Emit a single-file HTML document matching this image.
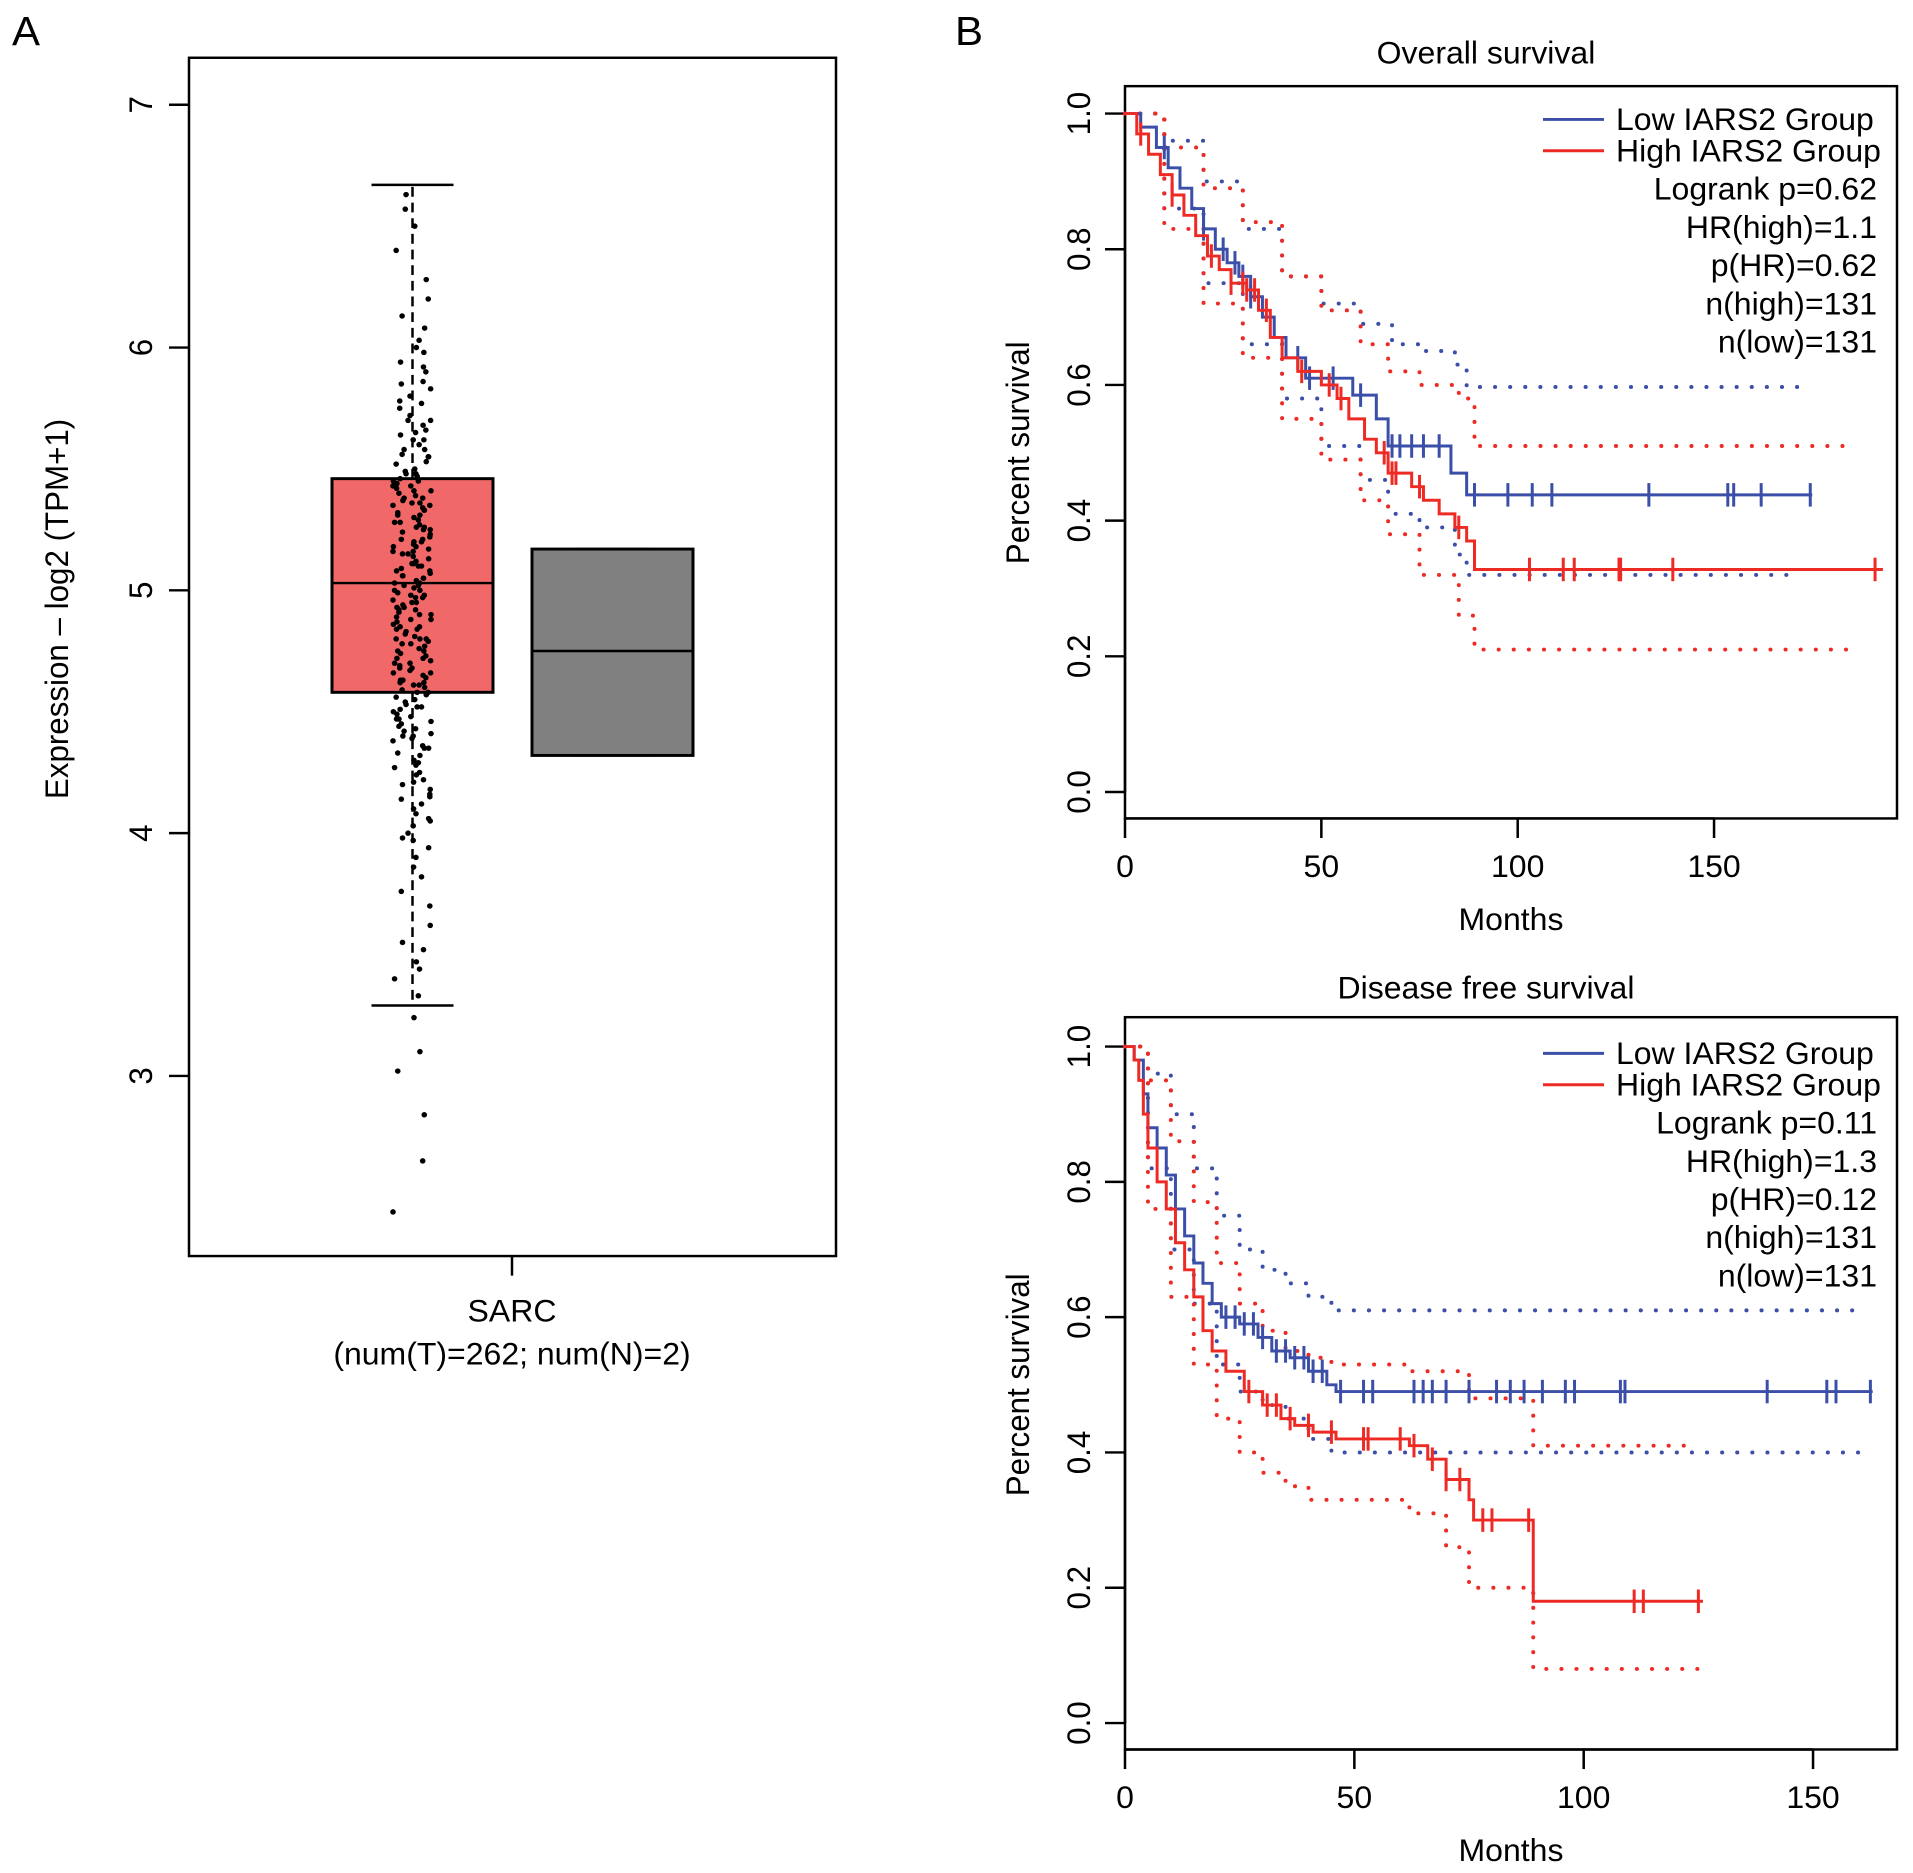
<!DOCTYPE html>
<html><head><meta charset="utf-8"><style>
html,body{margin:0;padding:0;background:#fff}
svg{display:block}
text{font-family:"Liberation Sans",Arial,sans-serif;fill:#000}
</style></head><body>
<svg id="fig" width="1913" height="1873" viewBox="0 0 1913 1873" xmlns="http://www.w3.org/2000/svg">
<g transform="scale(1,0.979)">
<text x="12" y="46" font-size="42">A</text>
<text x="955" y="46" font-size="42">B</text>
<g id="boxplot"></g>
<g id="os"></g>
<g id="dfs"></g>
</g>
</svg>
<script>
const NS="http://www.w3.org/2000/svg";
function mk(parent,tag,attrs,txt){const e=document.createElementNS(NS,tag);for(const k in attrs)e.setAttribute(k,attrs[k]);if(txt!==undefined)e.textContent=txt;parent.appendChild(e);return e;}
const FS=32;

// ---------- Panel A data ----------
const boxTicks=[3,4,5,6,7];
const tumorStats=[3.29,4.58,5.03,5.46,6.67];
const normalStats=[4.32,4.32,4.75,5.17,5.17];
const tumorPoints=[2.44,2.65,2.84,3.02,3.10,3.24,3.33,3.40,3.44,3.47,3.52,3.55,3.62,3.70,3.76,3.82,3.86,3.90,3.94,3.97,4.00,4.03,4.06,4.08,4.10,4.12,4.14,4.16,4.18,4.20,4.22,4.24,4.25,4.27,4.29,4.30,4.32,4.33,4.35,4.36,4.38,4.39,4.40,4.42,4.43,4.44,4.46,4.47,4.48,4.49,4.50,4.51,4.52,4.53,4.54,4.55,4.56,4.57,4.58,4.59,4.60,4.61,4.62,4.63,4.64,4.65,4.66,4.67,4.68,4.69,4.70,4.71,4.72,4.73,4.74,4.75,4.76,4.77,4.78,4.79,4.80,4.80,4.81,4.82,4.83,4.84,4.85,4.86,4.87,4.88,4.89,4.90,4.91,4.92,4.93,4.94,4.95,4.96,4.97,4.98,4.99,5.00,5.01,5.02,5.03,5.03,5.04,5.05,5.06,5.07,5.08,5.09,5.10,5.11,5.12,5.13,5.14,5.15,5.16,5.17,5.18,5.19,5.20,5.21,5.22,5.23,5.24,5.25,5.26,5.27,5.28,5.29,5.30,5.31,5.32,5.33,5.34,5.35,5.36,5.37,5.38,5.39,5.40,5.41,5.42,5.43,5.44,5.45,5.46,5.47,5.48,5.49,5.50,5.52,5.53,5.55,5.56,5.58,5.60,5.62,5.64,5.66,5.68,5.70,5.72,5.75,5.78,5.80,5.83,5.86,5.90,5.94,5.98,6.03,6.08,6.13,6.20,6.28,6.40,6.50,6.57,6.63,
4.58,4.62,4.66,4.72,4.78,4.84,4.88,4.92,4.97,5.02,5.06,5.11,5.16,5.21,5.26,5.31,5.36,5.41,5.45,4.70,4.85,4.95,5.05,5.15,5.25,5.35,4.45,4.52,4.61,5.48,5.55,5.62,5.70,4.40,4.35,4.28,4.21,5.77,5.85,4.15,4.05,3.98,5.92,6.00,4.90,5.00,5.10,5.20,4.80,4.75,5.33,5.38,5.43,4.68,4.63,5.58,5.65,4.47,4.41,5.08,4.98,4.93,5.18,5.28];
const sampleLabel=["SARC","(num(T)=262; num(N)=2)"];

(function(){
 const g=document.getElementById('boxplot');
 const L=189,R=836,T=59,B=1283;
 const y=v=>603-(v-5)*248;
 const fr=mk(g,'rect',{x:L,y:T,width:R-L,height:B-T,fill:'none',stroke:'#000','stroke-width':2.5});
 
 boxTicks.forEach(t=>{
  const ln=mk(g,'line',{x1:L-20,x2:L,y1:y(t),y2:y(t),stroke:'#000','stroke-width':2.5});
  
  const tx=mk(g,'text',{x:152,y:y(t),'font-size':FS,'text-anchor':'middle',transform:`rotate(-90 152 ${y(t)})`},String(t));
  
 });
 const yt=mk(g,'text',{x:68,y:622,'font-size':FS,'text-anchor':'middle',transform:'rotate(-90 68 622)'},'Expression \u2013 log2 (TPM+1)');
 
 function box(s,x0,x1,fill,name){
  const cx=(x0+x1)/2;
  const w1=mk(g,'line',{x1:cx,x2:cx,y1:y(s[3]),y2:y(s[4]),stroke:'#000','stroke-width':2.5,'stroke-dasharray':'10 6'});
  
  const w2=mk(g,'line',{x1:cx,x2:cx,y1:y(s[1]),y2:y(s[0]),stroke:'#000','stroke-width':2.5,'stroke-dasharray':'10 6'});
  
  const c1=mk(g,'line',{x1:cx-41,x2:cx+41,y1:y(s[4]),y2:y(s[4]),stroke:'#000','stroke-width':2.5});
  
  const c2=mk(g,'line',{x1:cx-41,x2:cx+41,y1:y(s[0]),y2:y(s[0]),stroke:'#000','stroke-width':2.5});
  
  const b=mk(g,'rect',{x:x0,y:y(s[3]),width:x1-x0,height:y(s[1])-y(s[3]),fill:fill,stroke:'#000','stroke-width':3});
  
  const m=mk(g,'line',{x1:x0,x2:x1,y1:y(s[2]),y2:y(s[2]),stroke:'#000','stroke-width':2.5});
  
 }
 box(normalStats,532,693,'#808080','normal');
 box(tumorStats,332,493,'#f06868','tumor');
 tumorPoints.forEach((v,i)=>{
  const jit=((i*7919+i*i*13)%97)/96*38-19;
  const d=mk(g,'circle',{cx:412+jit,cy:y(v),r:2.8,fill:'#000'});
  
 });
 const xt=mk(g,'line',{x1:512,x2:512,y1:B,y2:B+20,stroke:'#000','stroke-width':2.5});
 
 const l1=mk(g,'text',{x:512,y:1350,'font-size':FS,'text-anchor':'middle'},sampleLabel[0]);
 
 const l2=mk(g,'text',{x:512,y:1394,'font-size':FS,'text-anchor':'middle'},sampleLabel[1]);
 
})();

// ---------- Overall survival ----------
const osLowT=[0,4,8,11,14,17,20,23,26,29,32,35,38,41,46,58,64,67,83,87,175];
const osLowS=[1,0.98,0.95,0.92,0.89,0.86,0.83,0.80,0.78,0.76,0.73,0.70,0.67,0.64,0.61,0.585,0.55,0.51,0.47,0.438,0.438];
const osHighT=[0,3,6,9,12,15,18,21,24,27,31,34,37,40,44,50,54,57,61,64,67,73,76,80,84,87,89,193];
const osHighS=[1,0.97,0.94,0.91,0.88,0.85,0.82,0.79,0.77,0.75,0.74,0.71,0.67,0.64,0.62,0.60,0.58,0.55,0.52,0.50,0.47,0.45,0.43,0.41,0.39,0.37,0.328,0.328];
const osLowCens=[10,20,25,28,30,32,44,47,53,60,68,70,73,76,80,89,97.5,103.7,108.7,133.4,153.5,155,162,174.5];
const osHighCens=[4,12,22,27,30,31,33,36,45,52,55,66,68,69,75,85,103,111.6,114.4,125.8,126.2,139.5,191];
const osLowUpT=[0,10,20,30,40,50,60,68,75,84,87,172];
const osLowUpS=[1,0.96,0.90,0.83,0.76,0.72,0.69,0.66,0.65,0.63,0.597,0.597];
const osLowLoT=[0,10,20,30,40,50,60,67,75,84,87,172];
const osLowLoS=[1,0.86,0.75,0.66,0.58,0.51,0.46,0.41,0.39,0.35,0.32,0.32];
const osHighUpT=[0,10,20,30,40,50,60,67,75,85,89,186];
const osHighUpS=[1,0.95,0.89,0.84,0.76,0.71,0.66,0.62,0.60,0.58,0.51,0.51];
const osHighLoT=[0,10,20,30,40,50,60,67,75,85,89,186];
const osHighLoS=[1,0.83,0.72,0.64,0.55,0.49,0.43,0.38,0.32,0.26,0.21,0.21];
const osStats=["Logrank p=0.62","HR(high)=1.1","p(HR)=0.62","n(high)=131","n(low)=131"];
const osXTicks=[0,50,100,150];
// ---------- Disease free survival ----------
const dfsLowT=[0,2,4,5,7,9,11,13,15,17,19,21,25,29,32,36,40,44,46,163];
const dfsLowS=[1,0.98,0.93,0.88,0.85,0.81,0.76,0.72,0.68,0.65,0.62,0.60,0.59,0.57,0.55,0.54,0.52,0.50,0.49,0.49];
const dfsHighT=[0,2,3,4,5,7,9,11,13,15,17,19,22,26,30,34,37,41,46,62,66,70,75,76,89,126];
const dfsHighS=[1,0.98,0.95,0.90,0.85,0.80,0.76,0.71,0.67,0.63,0.58,0.55,0.52,0.49,0.47,0.45,0.44,0.43,0.42,0.41,0.39,0.36,0.33,0.30,0.18,0.18];
const dfsLowCens=[22,24,26,28,30,33,35,37,39,41,43,47,52,54,63,65,67,70,75,81,84,87,91,96,98,108,109,140,153,155,162.5];
const dfsHighCens=[27,31,33,36,40,45,52,53,60,63,67,70,73,78,80,88,111,113,125];
const dfsLowUpT=[0,5,10,15,20,25,30,35,40,45,160];
const dfsLowUpS=[1,0.96,0.90,0.82,0.75,0.70,0.67,0.65,0.63,0.61,0.61];
const dfsLowLoT=[0,5,10,15,20,25,30,35,40,45,161];
const dfsLowLoS=[1,0.82,0.70,0.62,0.53,0.49,0.47,0.45,0.42,0.40,0.40];
const dfsHighUpT=[0,5,10,15,20,25,30,35,40,45,62,75,89,125];
const dfsHighUpS=[1,0.95,0.86,0.77,0.68,0.62,0.58,0.55,0.54,0.53,0.52,0.48,0.41,0.41];
const dfsHighLoT=[0,5,10,15,20,25,30,35,40,45,62,70,75,89,125];
const dfsHighLoS=[1,0.76,0.63,0.53,0.45,0.40,0.37,0.35,0.33,0.33,0.31,0.26,0.20,0.08,0.08];
const dfsStats=["Logrank p=0.11","HR(high)=1.3","p(HR)=0.12","n(high)=131","n(low)=131"];
const dfsXTicks=[0,50,100,150];
const yTicks=[0,0.2,0.4,0.6,0.8,1.0];
const legendLabels=["Low IARS2 Group","High IARS2 Group"];

function kmPlot(gid,cfg){
 const g=document.getElementById(gid);
 const {L,R,T,B,y0,y1,pxm,title,titleY,stats,xTicks}=cfg;
 const X=m=>L+m*pxm, Y=v=>y0-(v)*(y0-y1);
 const fr=mk(g,'rect',{x:L,y:T,width:R-L,height:B-T,fill:'none',stroke:'#000','stroke-width':2.5});
 
 const tt=mk(g,'text',{x:(L+R)/2-25,y:titleY,'font-size':FS,'text-anchor':'middle'},title);
 
 const ax=mk(g,'line',{x1:X(xTicks[0]),x2:X(xTicks[xTicks.length-1]),y1:B,y2:B,stroke:'#000','stroke-width':2.5});
 
 xTicks.forEach(t=>{
  const ln=mk(g,'line',{x1:X(t),x2:X(t),y1:B,y2:B+20,stroke:'#000','stroke-width':2.5});
  
  const tx=mk(g,'text',{x:X(t),y:B+60,'font-size':FS,'text-anchor':'middle'},String(t));
  
 });
 const mx=mk(g,'text',{x:(L+R)/2,y:B+114,'font-size':FS,'text-anchor':'middle'},'Months');
 
 const ay=mk(g,'line',{x1:L,x2:L,y1:Y(0),y2:Y(1),stroke:'#000','stroke-width':2.5});
 
 yTicks.forEach(t=>{
  const ln=mk(g,'line',{x1:L-20,x2:L,y1:Y(t),y2:Y(t),stroke:'#000','stroke-width':2.5});
  
  const tx=mk(g,'text',{x:L-35,y:Y(t),'font-size':FS,'text-anchor':'middle',transform:`rotate(-90 ${L-35} ${Y(t)})`},t.toFixed(1));
  
 });
 const ym=(Y(0)+Y(1))/2;
 const yt=mk(g,'text',{x:L-96,y:ym,'font-size':FS,'text-anchor':'middle',transform:`rotate(-90 ${L-96} ${ym})`},'Percent survival');
 
 function stepPath(ts,ss){let d=`M${X(ts[0])},${Y(ss[0])}`;for(let i=1;i<ts.length;i++){d+=` H${X(ts[i])} V${Y(ss[i])}`;}return d;}
 function stepAt(ts,ss,t){let v=ss[0];for(let i=0;i<ts.length;i++){if(ts[i]<=t)v=ss[i];}return v;}
 cfg.ci.forEach(c=>{
  const p=mk(g,'path',{d:stepPath(c[0],c[1]),fill:'none',stroke:c[2],'stroke-width':4,'stroke-dasharray':'0.1 15','stroke-linecap':'round'});
  
 });
 cfg.curves.forEach(c=>{
  const p=mk(g,'path',{d:stepPath(c[0],c[1]),fill:'none',stroke:c[2],'stroke-width':3});
  
  c[3].forEach(t=>{
   const v=stepAt(c[0],c[1],t);
   const m=mk(g,'line',{x1:X(t),x2:X(t),y1:Y(v)-12,y2:Y(v)+12,stroke:c[2],'stroke-width':3});
   
  });
 });
 const ly=cfg.legY;
 [['#3b4fa8',legendLabels[0]],['#ee2a24',legendLabels[1]]].forEach((e,i)=>{
  const l=mk(g,'line',{x1:1543,x2:1604,y1:ly+i*32,y2:ly+i*32,stroke:e[0],'stroke-width':3});
  
  const t=mk(g,'text',{x:1616,y:ly+i*32+11,'font-size':FS},e[1]);
  
 });
 stats.forEach((s,i)=>{
  const t=mk(g,'text',{x:1877,y:ly+82+i*39,'font-size':FS,'text-anchor':'end'},s);
  
 });
}
kmPlot('os',{L:1125,R:1897,T:88,B:836,y0:809,y1:116,pxm:3.927,title:'Overall survival',titleY:65,stats:osStats,xTicks:osXTicks,legY:122,
 ci:[[osLowUpT,osLowUpS,'#3b4fa8','low-ci-upper'],[osLowLoT,osLowLoS,'#3b4fa8','low-ci-lower'],[osHighUpT,osHighUpS,'#ee2a24','high-ci-upper'],[osHighLoT,osHighLoS,'#ee2a24','high-ci-lower']],
 curves:[[osLowT,osLowS,'#3b4fa8',osLowCens,'low-group'],[osHighT,osHighS,'#ee2a24',osHighCens,'high-group']]});
kmPlot('dfs',{L:1125,R:1897,T:1039,B:1787,y0:1760,y1:1069,pxm:4.587,title:'Disease free survival',titleY:1020,stats:dfsStats,xTicks:dfsXTicks,legY:1076,
 ci:[[dfsLowUpT,dfsLowUpS,'#3b4fa8','low-ci-upper'],[dfsLowLoT,dfsLowLoS,'#3b4fa8','low-ci-lower'],[dfsHighUpT,dfsHighUpS,'#ee2a24','high-ci-upper'],[dfsHighLoT,dfsHighLoS,'#ee2a24','high-ci-lower']],
 curves:[[dfsLowT,dfsLowS,'#3b4fa8',dfsLowCens,'low-group'],[dfsHighT,dfsHighS,'#ee2a24',dfsHighCens,'high-group']]});
</script>
</body></html>
